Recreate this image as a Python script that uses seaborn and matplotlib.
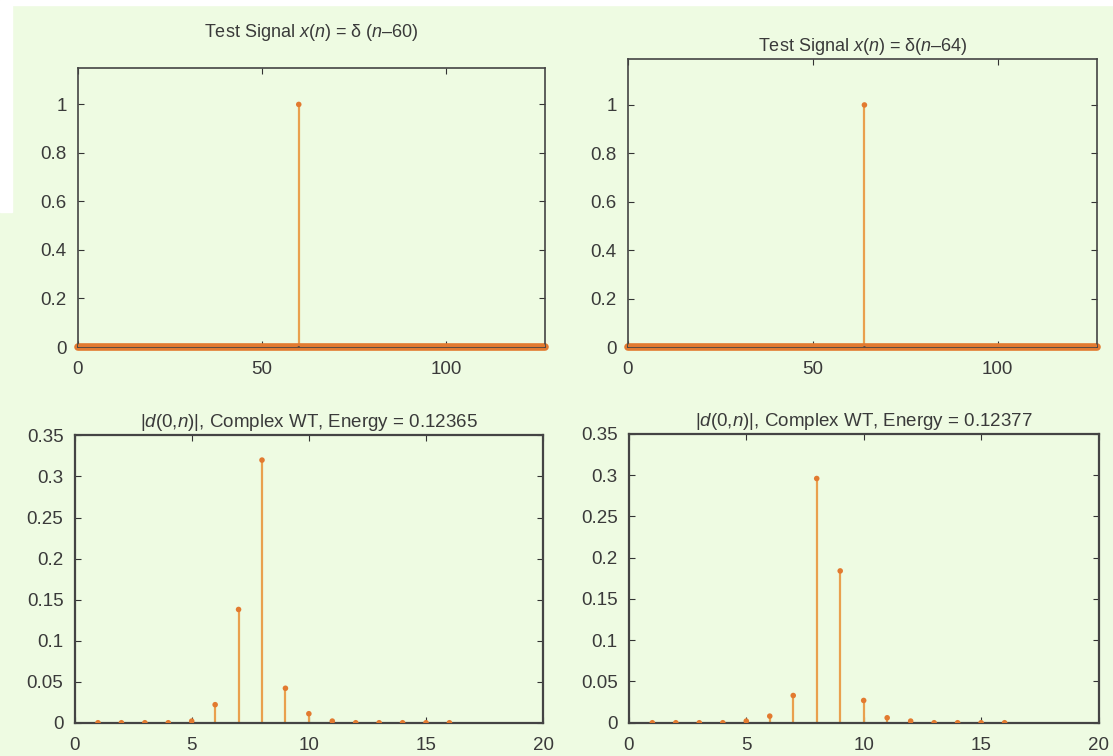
import matplotlib
matplotlib.use("Agg")
import matplotlib.pyplot as plt
import seaborn as sns
import pandas as pd
from matplotlib.patches import Rectangle

# Test signals: unit impulses, n = 0..127
n_top = list(range(128))
sig_left = [0.0] * 128
sig_left[60] = 1.0
sig_right = [0.0] * 128
sig_right[64] = 1.0

# |d(0,n)| coefficients, n = 1..16
n_bot = list(range(1, 17))
coef_left = [0.0, 0.0, 0.0, 0.0, 0.002, 0.022, 0.138, 0.320,
             0.042, 0.011, 0.002, 0.0, 0.0, 0.0, 0.0, 0.0]
coef_right = [0.0, 0.0, 0.0, 0.0, 0.002, 0.008, 0.033, 0.296,
              0.184, 0.027, 0.006, 0.002, 0.0, 0.0, 0.0, 0.0]

titles = [r"Test Signal $x$($n$) = δ ($n$–60)",
          r"Test Signal $x$($n$) = δ($n$–64)",
          r"|$d$(0,$n$)|, Complex WT, Energy = 0.12365",
          r"|$d$(0,$n$)|, Complex WT, Energy = 0.12377"]

bg = "#eefbe2"
stem_col = "#e9a04e"
mark_col = "#e27a30"
text_col = "#3a3a3a"

sns.set_style("ticks")
plt.rcParams["font.family"] = ["Liberation Sans", "DejaVu Sans"]
plt.rcParams["mathtext.fontset"] = "custom"
plt.rcParams["mathtext.rm"] = "Liberation Sans"
plt.rcParams["mathtext.it"] = "Liberation Sans:italic"

fig = plt.figure(figsize=(11.13, 7.56), dpi=100, facecolor=bg)
fig.add_artist(Rectangle((0, 0.993), 1, 0.007, transform=fig.transFigure,
                         color="white", zorder=0))
fig.add_artist(Rectangle((0, 0.72), 0.011, 0.28, transform=fig.transFigure,
                         color="white", zorder=0))

boxes = [[0.070, 0.541, 0.420, 0.369],
         [0.564, 0.541, 0.422, 0.381],
         [0.067, 0.044, 0.421, 0.380],
         [0.565, 0.044, 0.422, 0.382]]
axes = [fig.add_axes(b) for b in boxes]

panels = [(n_top, sig_left), (n_top, sig_right),
          (n_bot, coef_left), (n_bot, coef_right)]

for i, (ax, (x, y)) in enumerate(zip(axes, panels)):
    df = pd.DataFrame({"n": x, "v": y})
    ax.set_facecolor(bg)
    ax.vlines(df["n"], 0, df["v"], color=stem_col, lw=1.6, zorder=2)
    if i < 2:
        ax.plot(df["n"], df["v"] * 0, color=mark_col, lw=5.5, zorder=2,
                clip_on=False)
    sns.scatterplot(data=df, x="n", y="v", ax=ax, color=mark_col, s=16,
                    marker="o", edgecolor="none", zorder=3, legend=False)
    ax.set_xlabel("")
    ax.set_ylabel("")
    if i < 2:
        ax.set_xlim(0, 127)
        ax.set_ylim(0, 1.15 if i == 0 else 1.19)
        ax.set_xticks([0, 50, 100])
        ax.set_yticks([0, 0.2, 0.4, 0.6, 0.8, 1])
        ax.set_yticklabels(["0", "0.2", "0.4", "0.6", "0.8", "1"])
        ax.set_title(titles[i], fontsize=13, color=text_col,
                     pad=22 if i == 0 else 6)
    else:
        ax.set_xlim(0, 20)
        ax.set_ylim(0, 0.35)
        ax.set_xticks([0, 5, 10, 15, 20])
        ax.set_yticks([0, 0.05, 0.1, 0.15, 0.2, 0.25, 0.3, 0.35])
        ax.set_yticklabels(["0", "0.05", "0.1", "0.15", "0.2", "0.25",
                            "0.3", "0.35"])
        ax.set_title(titles[i], fontsize=13.5, color=text_col, pad=6)
    ax.tick_params(direction="in", length=4, width=0.8, top=True, right=True,
                   labelsize=13.5, labelcolor=text_col, color="#333333")
    ax.tick_params(axis="x", pad=10)
    ax.tick_params(axis="y", pad=8)
    for sp in ax.spines.values():
        sp.set_visible(True)
        sp.set_color("#444444")
        sp.set_linewidth(1.6 if i >= 2 else 1.2)

fig.savefig("out.png", dpi=100, facecolor=bg)
